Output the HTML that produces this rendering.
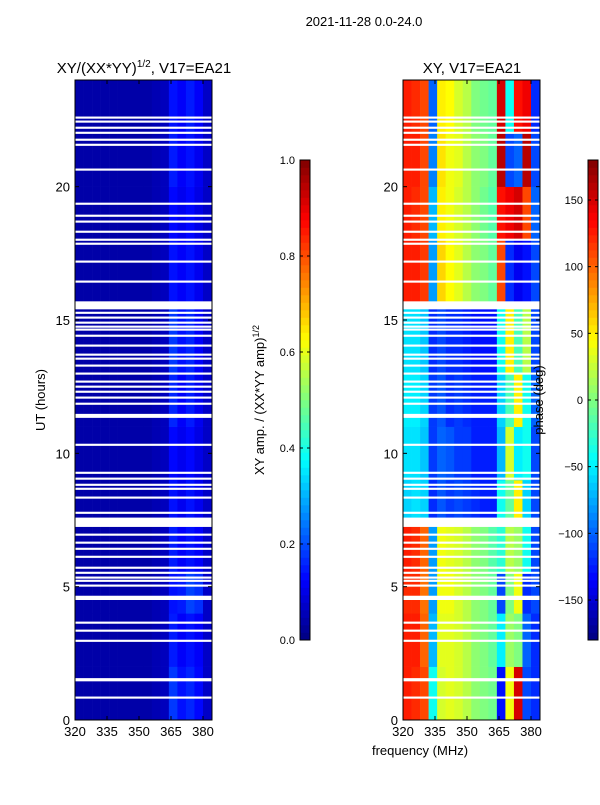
<!DOCTYPE html>
<html><head><meta charset="utf-8"><style>
body{margin:0;background:#fff;width:600px;height:800px;overflow:hidden}
svg text{font-family:"Liberation Sans",sans-serif;fill:#000}
</style></head><body>
<svg id="c" width="600" height="800" xmlns="http://www.w3.org/2000/svg"></svg>
<script>
// frequency bins (MHz, left edge, 4 MHz wide), hour bins (start hours; each bin ends at next start / 24)
const freqBins=[320,324,328,332,336,340,344,348,352,356,360,364,368,372,376,380];
const hourBins=[0,2,4,5.5,7.3,9,11,13,15.5,18,20,22];
// amplitude grid rows = hourBins, cols = freqBins
const ampGrid=[
[0.04,0.04,0.04,0.04,0.04,0.04,0.04,0.04,0.04,0.05,0.06,0.18,0.14,0.16,0.13,0.07],
[0.04,0.04,0.04,0.04,0.04,0.04,0.04,0.04,0.04,0.05,0.06,0.15,0.12,0.14,0.12,0.07],
[0.04,0.04,0.04,0.04,0.04,0.04,0.04,0.04,0.04,0.05,0.06,0.14,0.15,0.19,0.17,0.07],
[0.04,0.04,0.04,0.04,0.04,0.04,0.04,0.04,0.04,0.05,0.06,0.15,0.12,0.14,0.12,0.07],
[0.04,0.04,0.04,0.04,0.04,0.04,0.04,0.04,0.04,0.05,0.06,0.14,0.11,0.14,0.11,0.07],
[0.04,0.04,0.04,0.04,0.04,0.04,0.04,0.04,0.04,0.05,0.06,0.13,0.11,0.13,0.1,0.07],
[0.04,0.04,0.04,0.04,0.04,0.04,0.04,0.04,0.04,0.05,0.06,0.16,0.12,0.15,0.11,0.07],
[0.04,0.04,0.04,0.04,0.04,0.04,0.04,0.04,0.04,0.05,0.06,0.18,0.14,0.16,0.12,0.07],
[0.04,0.04,0.04,0.04,0.04,0.04,0.04,0.04,0.04,0.05,0.06,0.14,0.12,0.14,0.11,0.07],
[0.04,0.04,0.04,0.04,0.04,0.04,0.04,0.04,0.04,0.05,0.06,0.13,0.11,0.13,0.1,0.07],
[0.04,0.04,0.04,0.04,0.04,0.04,0.04,0.04,0.04,0.05,0.06,0.15,0.12,0.14,0.11,0.07],
[0.04,0.04,0.04,0.04,0.04,0.04,0.04,0.04,0.04,0.05,0.06,0.14,0.12,0.15,0.12,0.07]];
// phase grid (deg)
const phaseGrid=[
[125,120,110,-40,30,35,30,20,5,0,-5,-130,40,150,-110,-120],
[125,125,100,-70,35,35,30,20,5,0,-10,-50,10,0,-100,-120],
[120,120,95,-80,40,40,30,20,5,0,-10,-110,0,40,-120,-110],
[125,120,100,-80,40,35,30,20,5,0,-15,-30,20,10,-40,-110],
[-60,-55,-60,-120,-105,-115,-110,-115,-120,-125,-125,-40,-10,50,-60,-110],
[-55,-55,-65,-115,-100,-105,-115,-115,-125,-125,-125,-70,30,-50,-40,-110],
[-50,-50,-60,-115,-105,-120,-115,-120,-125,-125,-125,-60,-20,50,-40,-100],
[-55,-55,-65,-120,-110,-120,-120,-125,-130,-130,-130,-40,50,-20,20,-110],
[125,125,115,-80,60,45,35,20,5,0,-10,110,-120,-140,-130,-110],
[125,120,110,-70,50,40,30,20,5,-5,-15,130,140,150,110,-100],
[125,125,110,-90,55,40,35,20,5,0,-10,160,-110,-100,160,-110],
[125,120,110,-100,50,45,30,20,0,-5,-10,150,-40,130,140,-120]];
// white gaps in UT hours [start, width]
const gaps=[[22.55,0.08],[22.4,0.08],[22.17,0.08],[21.98,0.08],[21.72,0.08],[21.53,0.08],[20.6,0.08],[19.32,0.08],[18.87,0.08],[18.65,0.08],[18.27,0.08],[17.97,0.08],[17.82,0.08],[17.15,0.08],[16.4,0.08],[15.4,0.3],[15.23,0.08],[15.05,0.08],[14.86,0.08],[14.71,0.08],[14.6,0.08],[14.37,0.08],[14.0,0.08],[13.66,0.08],[13.51,0.08],[13.25,0.08],[12.95,0.08],[12.65,0.08],[12.46,0.08],[12.27,0.08],[12.05,0.08],[11.82,0.08],[11.33,0.15],[10.28,0.08],[9.23,0.08],[9.01,0.08],[8.78,0.08],[8.63,0.08],[8.3,0.08],[7.73,0.08],[7.24,0.35],[6.91,0.08],[6.61,0.08],[6.38,0.08],[6.08,0.08],[5.67,0.08],[5.48,0.08],[5.3,0.08],[5.18,0.08],[5.0,0.08],[4.5,0.16],[3.61,0.08],[3.31,0.08],[2.93,0.08],[1.45,0.12],[0.8,0.08]];
const freqTicks=[320,335,350,365,380];
const hourTicks=[0,5,10,15,20];
const ampTicks=[0.0,0.2,0.4,0.6,0.8,1.0];
const phaseTicks=[-150,-100,-50,0,50,100,150];

const NS="http://www.w3.org/2000/svg",svg=document.getElementById('c');
function el(t,a,p){const e=document.createElementNS(NS,t);for(const k in a)e.setAttribute(k,a[k]);(p||svg).appendChild(e);return e;}
function jet(v){v=Math.max(0,Math.min(1,v));const r=Math.min(4*v-1.5,-4*v+4.5),g=Math.min(4*v-0.5,-4*v+3.5),b=Math.min(4*v+0.5,-4*v+2.5);const c=x=>Math.round(255*Math.max(0,Math.min(1,x)));return `rgb(${c(r)},${c(g)},${c(b)})`;}
const yS=h=>720-h*(640/24);
const panels=[{x0:75,name:'amp',grid:ampGrid,norm:v=>v},{x0:403,name:'phase',grid:phaseGrid,norm:v=>(v+180)/360}];
const fS=(x0,f)=>x0+(f-320)*(128/60);
panels.forEach(p=>{
  const g=el('g',{});
  
  
  hourBins.forEach((h,i)=>freqBins.forEach((f,j)=>{
    const hEnd=i+1<hourBins.length?hourBins[i+1]:24;
    const x=fS(p.x0,f),x2=fS(p.x0,Math.min(f+4,384.2)),y=yS(hEnd),y2=yS(h);
    const r=el('rect',{x:x,y:y,width:x2-x+0.3,height:y2-y+0.3,fill:jet(p.norm(p.grid[i][j]))},g);
    
    
  }));
  gaps.forEach(gp=>{
    const r=el('rect',{x:p.x0,y:yS(gp[0]+gp[1]),width:137,height:gp[1]*640/24,fill:'#fff'},g);
    
    
  });
  const fr=el('rect',{x:p.x0,y:80,width:137,height:640,fill:'none',stroke:'#000','stroke-width':1});
  
  
  freqTicks.forEach(t=>{const x=fS(p.x0,t);
    el('line',{x1:x,x2:x,y1:720,y2:716,stroke:'#000'});el('line',{x1:x,x2:x,y1:80,y2:84,stroke:'#000'});
    const tx=el('text',{x:x,y:736,'font-size':13,'text-anchor':'middle'});tx.textContent=t;
    });
  hourTicks.forEach(t=>{const y=yS(t);
    el('line',{x1:p.x0,x2:p.x0+4,y1:y,y2:y,stroke:'#000'});el('line',{x1:p.x0+133,x2:p.x0+137,y1:y,y2:y,stroke:'#000'});
    const tx=el('text',{x:p.x0-5,y:y+5,'font-size':13,'text-anchor':'end'});tx.textContent=t;
    });
});
// colorbars
[{x:300,ticks:ampTicks,norm:v=>v,fmt:v=>v.toFixed(1),name:'amp-colorbar'},{x:588,ticks:phaseTicks,norm:v=>(v+180)/360,fmt:v=>String(v).replace('-','\u2212'),name:'phase-colorbar'}].forEach(cb=>{
  const g=el('g',{});
  for(let i=0;i<64;i++){el('rect',{x:cb.x,y:640-(i+1)*7.5,width:10,height:7.8,fill:jet((i+0.5)/64)},g);}
  el('rect',{x:cb.x,y:160,width:10,height:480,fill:'none',stroke:'#000'},g);
  cb.ticks.forEach(t=>{const y=640-cb.norm(t)*480;
    el('line',{x1:cb.x,x2:cb.x+3,y1:y,y2:y,stroke:'#000'},g);el('line',{x1:cb.x+7,x2:cb.x+10,y1:y,y2:y,stroke:'#000'},g);
    const tx=el('text',{x:cb.x-5,y:y+4,'font-size':11,'text-anchor':'end'},g);tx.textContent=cb.fmt(t);
    });
});
</script>
<svg width="600" height="800" style="position:absolute;left:0;top:0">
<text x="364" y="26" font-size="13" text-anchor="middle">2021-11-28 0.0-24.0</text>
<text x="144" y="73" font-size="15" text-anchor="middle">XY/(XX*YY)<tspan font-size="10" dy="-6">1/2</tspan><tspan dy="6">, V17=EA21</tspan></text>
<text x="472" y="73" font-size="15" text-anchor="middle">XY, V17=EA21</text>
<text x="45" y="400" font-size="13" text-anchor="middle" transform="rotate(-90 45 400)">UT (hours)</text>
<text x="420" y="755" font-size="13" text-anchor="middle">frequency (MHz)</text>
<text x="264" y="400" font-size="13" text-anchor="middle" transform="rotate(-90 264 400)">XY amp. / (XX*YY amp)<tspan font-size="9" dy="-5">1/2</tspan></text>
<text x="543" y="400" font-size="13" text-anchor="middle" transform="rotate(-90 543 400)">phase (deg)</text>
</svg>
</body></html>
